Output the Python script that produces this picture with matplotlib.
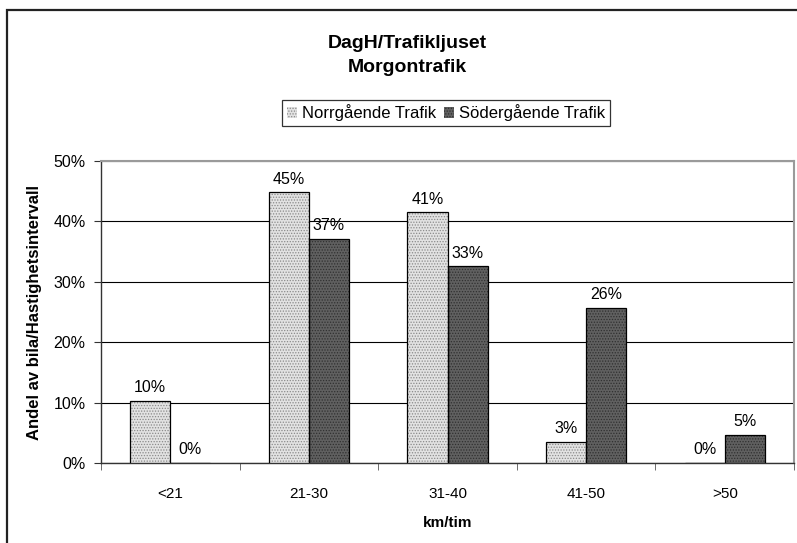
import matplotlib.pyplot as plt
import numpy as np
from matplotlib.patches import Rectangle

plt.rcParams['font.family'] = ['Liberation Sans', 'DejaVu Sans']

categories = ["<21", "21-30", "31-40", "41-50", ">50"]
norr = [10.3, 44.8, 41.5, 3.5, 0.0]
soder = [0.0, 37.1, 32.6, 25.7, 4.7]
norr_labels = ["10%", "45%", "41%", "3%", "0%"]
soder_labels = ["0%", "37%", "33%", "26%", "5%"]
series_names = ["Norrgående Trafik", "Södergående Trafik"]

W, H = 797, 543
fig = plt.figure(figsize=(W / 100, H / 100), dpi=100)

# outer chart frame (cropped at right/bottom)
fig.patches.append(Rectangle((7 / W, -0.05), 1.1, 1.05 - 10 / H,
                             transform=fig.transFigure, fill=False,
                             edgecolor='#222222', linewidth=1.6))

ax = fig.add_axes([101 / W, 80 / H, 693 / W, 302 / H])

x = np.arange(len(categories))
bw = 0.29

def draw_bars(xs, vals, face, hatch_col, hatch):
    # pattern fill, then black outline
    ax.bar(xs, vals, bw, color=face, edgecolor=hatch_col, hatch=hatch,
           linewidth=0, zorder=3)
    ax.bar(xs, vals, bw, fill=False, edgecolor='black', linewidth=0.9,
           zorder=4)

plt.rcParams['hatch.linewidth'] = 0.6
draw_bars(x - bw / 2, norr, '#e2e2e2', '#8a8a8a', '......')
draw_bars(x + bw / 2, soder, '#606060', '#303030', '......')

fs = 11.5
for xi, v, lab in zip(x - bw / 2, norr, norr_labels):
    ax.annotate(lab, (xi, v), xytext=(0, 4), textcoords='offset points',
                ha='center', va='bottom', fontsize=fs)
for xi, v, lab in zip(x + bw / 2, soder, soder_labels):
    ax.annotate(lab, (xi, v), xytext=(0, 4), textcoords='offset points',
                ha='center', va='bottom', fontsize=fs)

ax.set_xlim(-0.5, len(categories) - 0.5)
ax.set_ylim(0, 50)
ax.set_yticks(np.arange(0, 51, 10))
ax.set_yticklabels([f"{v}%" for v in range(0, 51, 10)], fontsize=fs)
ax.yaxis.grid(True, color='black', linewidth=0.8, zorder=0)
ax.set_axisbelow(True)

ax.set_xticks(x)
ax.set_xticklabels(categories, fontsize=11)
ax.tick_params(axis='x', length=0, pad=17)
ax.set_xticks(np.arange(-0.5, len(categories)), minor=True)
ax.tick_params(axis='x', which='minor', length=5, direction='out', color='#555555')
ax.tick_params(axis='y', length=5, direction='out', color='#333333', pad=6)

for side in ['top', 'right']:
    ax.spines[side].set_color('#9a9a9a')
    ax.spines[side].set_linewidth(1.5)
for side in ['left', 'bottom']:
    ax.spines[side].set_color('#333333')
    ax.spines[side].set_linewidth(1.0)

ax.set_xlabel("km/tim", fontsize=11, fontweight='bold', labelpad=11)
ax.set_ylabel("Andel av bila/Hastighetsintervall", fontsize=12,
              fontweight='bold', labelpad=8)

fig.text(407 / W, 1 - 44 / H, "DagH/Trafikljuset", ha='center', va='center',
         fontsize=14, fontweight='bold')
fig.text(407 / W, 1 - 67 / H, "Morgontrafik", ha='center', va='center',
         fontsize=14, fontweight='bold')

h1 = Rectangle((0, 0), 1, 1, facecolor='#e2e2e2', edgecolor='#8a8a8a',
               hatch='......', linewidth=0)
h2 = Rectangle((0, 0), 1, 1, facecolor='#606060', edgecolor='#303030',
               hatch='......', linewidth=0)
leg = fig.legend([h1, h2], series_names, loc='center',
                 bbox_to_anchor=(446 / W, 1 - 113 / H), ncol=2, fontsize=12,
                 frameon=True, fancybox=False, handlelength=0.6,
                 handleheight=0.6, handletextpad=0.3, columnspacing=0.5,
                 borderpad=0.3, borderaxespad=0)
leg.get_frame().set_edgecolor('black')
leg.get_frame().set_linewidth(0.9)

fig.savefig("out.png", dpi=100)
